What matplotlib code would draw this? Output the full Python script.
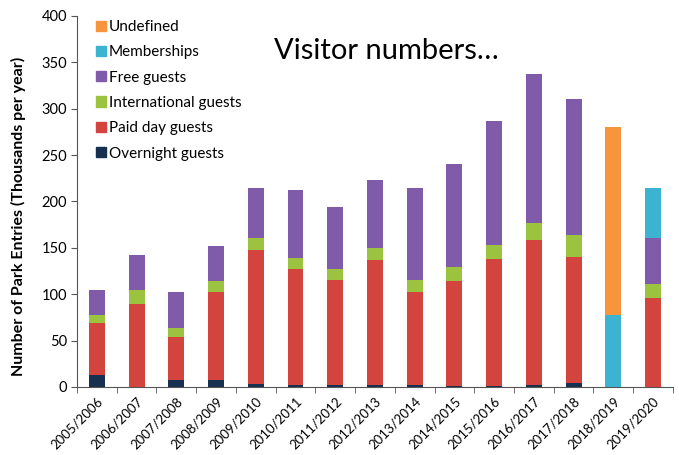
import matplotlib.pyplot as plt
from matplotlib.patches import Patch
import numpy as np

# season labels along the x axis
seasons = ['2005/2006', '2006/2007', '2007/2008', '2008/2009', '2009/2010',
           '2010/2011', '2011/2012', '2012/2013', '2013/2014', '2014/2015',
           '2015/2016', '2016/2017', '2017/2018', '2018/2019', '2019/2020']

# park entries, thousands per year
overnight = [13, 0, 7, 7, 3, 2, 2, 2, 2, 1.5, 1.5, 2, 4, 0, 0]
paid_day = [56, 89.5, 47, 95, 145, 125, 113, 135, 100, 113, 137, 156.5, 136, 0, 96]
international = [9, 15, 10, 12.5, 13, 12, 12, 13, 13.5, 14.5, 14.5, 18.5, 23.5, 0, 14.5]
free = [27, 38, 38, 38, 54, 73, 66.5, 73, 99.5, 111, 134, 160.5, 147, 0, 50]
memberships = [0, 0, 0, 0, 0, 0, 0, 0, 0, 0, 0, 0, 0, 78, 54]
undefined = [0, 0, 0, 0, 0, 0, 0, 0, 0, 0, 0, 0, 0, 202, 0]

series = [('Overnight guests', overnight, '#17304f'),
          ('Paid day guests', paid_day, '#d4443e'),
          ('International guests', international, '#9cc33f'),
          ('Free guests', free, '#7f5ba9'),
          ('Memberships', memberships, '#3cb3d1'),
          ('Undefined', undefined, '#f7953f')]

plt.rcParams['font.family'] = ['Lato', 'DejaVu Sans']

fig = plt.figure(figsize=(6.79, 4.55), dpi=100)
ax = fig.add_axes([0.1134, 0.1495, 0.8776, 0.8155])

x = np.arange(len(seasons))
bottom = np.zeros(len(seasons))
for name, vals, col in series:
    ax.bar(x, vals, width=0.4, bottom=bottom, color=col, label=name)
    bottom += np.array(vals)

ax.set_xlim(-0.5, len(seasons) - 0.5)
ax.set_ylim(0, 400)
ax.set_yticks(range(0, 401, 50))
ax.tick_params(axis='y', labelsize=10.5, length=4, color='#555555', pad=3)

# labels under bars, tick marks between categories
ax.set_xticks(x)
ax.set_xticklabels(seasons, rotation=45, ha='right', rotation_mode='anchor', fontsize=9.5)
ax.tick_params(axis='x', which='major', length=0, pad=6)
ax.set_xticks(np.arange(-0.5, len(seasons), 1), minor=True)
ax.tick_params(axis='x', which='minor', length=4, color='#555555')

for s in ['top', 'right']:
    ax.spines[s].set_visible(False)
for s in ['left', 'bottom']:
    ax.spines[s].set_color('#555555')

ax.set_ylabel('Number of Park Entries (Thousands per year)', fontsize=11.5,
              fontweight='bold')
ax.yaxis.set_label_coords(-0.085, 0.46)

handles = [Patch(color=c, label=n) for n, v, c in series][::-1]
ax.legend(handles=handles, loc='upper left', bbox_to_anchor=(0.032, 0.989),
          frameon=False, fontsize=11, handlelength=0.65, handleheight=0.65,
          handletextpad=0.2, labelspacing=0.74, borderpad=0, borderaxespad=0)

fig.text(0.569, 0.870, 'Visitor numbers…', fontsize=21, ha='center', va='baseline')

fig.savefig('out.png', dpi=100)
